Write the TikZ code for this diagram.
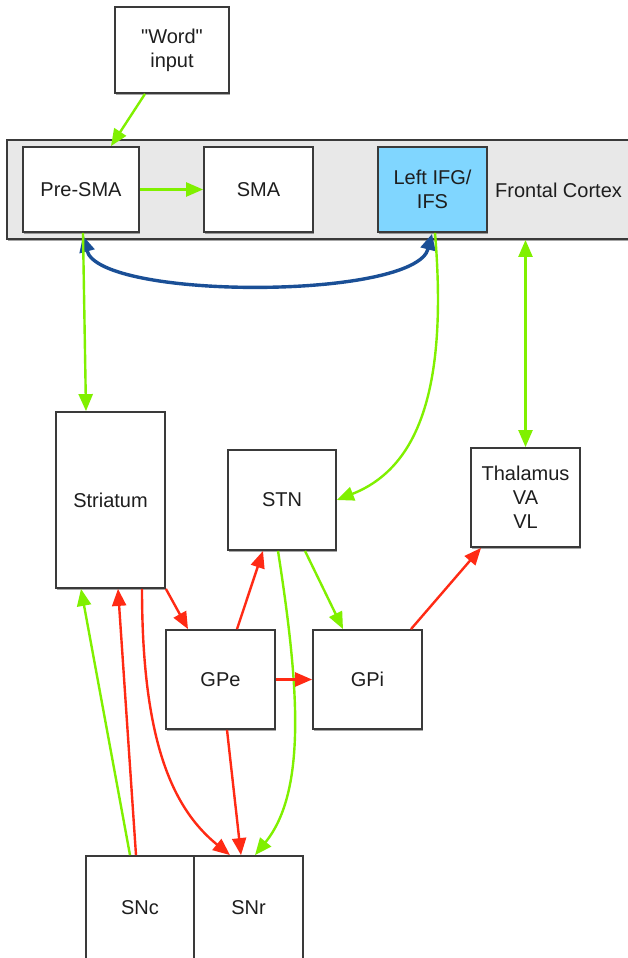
\documentclass[tikz,border=0pt]{standalone}
\usepackage{fontspec}
\newfontfamily\lsans{Liberation Sans}
\usetikzlibrary{arrows.meta,shadows}
\definecolor{gr}{HTML}{80F000}
\definecolor{rd}{HTML}{FF2A14}
\definecolor{bl}{HTML}{1A4F96}
\definecolor{boxc}{HTML}{3A3A3A}
\definecolor{bandc}{HTML}{E8E8E8}
\definecolor{ifgc}{HTML}{80D6FF}
\definecolor{txt}{HTML}{1E1E1E}
\begin{document}
\begin{tikzpicture}[x=1pt,y=-1pt,
  tp/.tip={Triangle[length=17pt,width=14pt]},
  btp/.tip={Triangle[length=16pt,width=15pt]},
  box/.style={rectangle, draw=boxc, line width=1.8pt, fill=white, inner sep=0pt,
    align=center, font=\lsans\fontsize{20}{24}\selectfont, text=txt,
    drop shadow={shadow xshift=1.2pt, shadow yshift=-1.8pt, fill=black, opacity=0.35}},
  flatbox/.style={rectangle, draw=boxc, line width=1.8pt, fill=white, inner sep=0pt,
    align=center, font=\lsans\fontsize{20}{24}\selectfont, text=txt},
  lbl/.style={inner sep=0pt, font=\lsans\fontsize{20}{24}\selectfont, text=txt},
  garrow/.style={draw=gr, line width=2.4pt, -tp},
  gdouble/.style={draw=gr, line width=2.4pt, tp-tp},
  rarrow/.style={draw=rd, line width=2.4pt, -tp},
  barrow/.style={draw=bl, line width=3.4pt, btp-btp}]
\useasboundingbox (0,0) rectangle (628,958);
% frontal cortex band
\node[box, fill=bandc, minimum width=633pt, minimum height=99pt] (band) at (323.5,189.5) {};
\node[lbl, anchor=west] (fc) at (495,190) {Frontal Cortex};
% nodes
\node[box, minimum width=114pt, minimum height=86pt] (word) at (172,50) {"Word"\\input};
\node[box, minimum width=116pt, minimum height=85pt] (presma) at (81,189.5) {Pre-SMA};
\node[box, minimum width=109pt, minimum height=85pt] (sma) at (258.5,189.5) {SMA};
\node[box, fill=ifgc, minimum width=109pt, minimum height=85pt] (ifg) at (432.5,189.5) {Left IFG/\\IFS};
\node[box, minimum width=109pt, minimum height=176pt] (str) at (110.5,500) {Striatum};
\node[box, minimum width=108pt, minimum height=100pt] (stn) at (282,500) {STN};
\node[box, minimum width=109pt, minimum height=99pt] (thal) at (525.5,497.5) {Thalamus\\VA\\VL};
\node[box, minimum width=109pt, minimum height=99pt] (gpe) at (220.5,679.5) {GPe};
\node[box, minimum width=109pt, minimum height=99pt] (gpi) at (367.5,679.5) {GPi};
\node[flatbox, minimum width=108pt, minimum height=104pt] (snc) at (140,908) {SNc};
\node[flatbox, minimum width=109pt, minimum height=104pt] (snr) at (248.5,908) {SNr};
% connectors
\draw[garrow] ([xshift=-27pt]word.south) -- ([xshift=30pt]presma.north);
\draw[garrow] (presma.east) -- (sma.west);
\draw[barrow] ([xshift=2pt,yshift=-3pt]presma.south) .. controls (100,300) and (415,300) .. ([xshift=-0.5pt,yshift=-1pt]ifg.south);
\draw[garrow] ([xshift=2pt]presma.south) -- ([xshift=-24.5pt]str.north);
\draw[garrow] ([xshift=2.5pt]ifg.south) .. controls (448,390) and (418,468) .. (stn.east);
\draw[gdouble] (thal.north |- band.south) -- (thal.north);
\draw[garrow] ([xshift=23pt]stn.south) -- ([xshift=-24.5pt]gpi.north);
\draw[garrow] ([xshift=-4pt]stn.south) .. controls (298,680) and (308,790) .. ([xshift=6.5pt]snr.north);
\draw[rarrow] ([xshift=16.5pt]gpe.north) -- ([xshift=-19pt]stn.south);
\draw[rarrow] (gpe.east) -- (gpi.west);
\draw[rarrow] ([xshift=43.5pt]gpi.north) -- ([xshift=-44.5pt]thal.south);
\draw[rarrow] (str.south east) -- ([xshift=-32.5pt]gpe.north);
\draw[rarrow] ([xshift=6.5pt]gpe.south) -- ([xshift=-7.5pt]snr.north);
\draw[rarrow] ([xshift=31.5pt]str.south) .. controls (142,740) and (172,808) .. ([xshift=-18.5pt]snr.north);
\draw[rarrow] ([xshift=-4pt]snc.north) -- ([xshift=7.5pt]str.south);
\draw[garrow] ([xshift=-10pt]snc.north) -- ([xshift=-29.5pt]str.south);
\end{tikzpicture}
\end{document}
